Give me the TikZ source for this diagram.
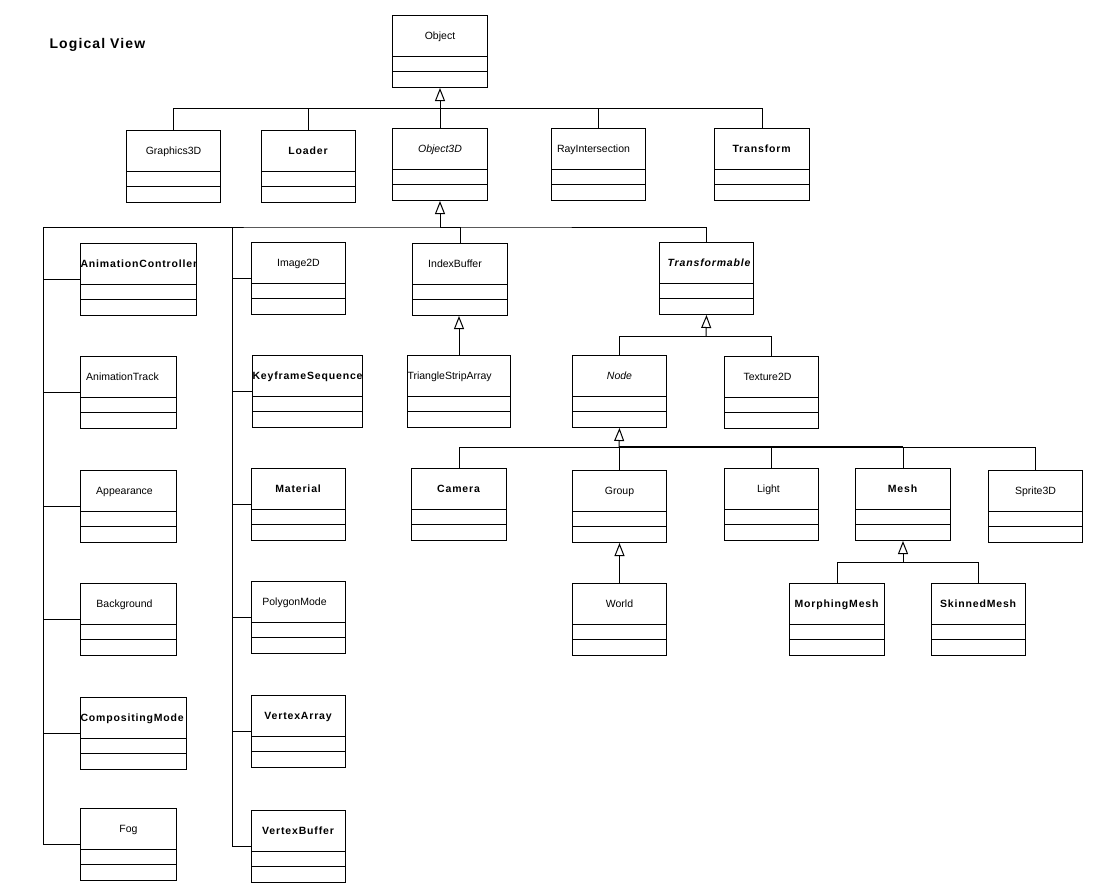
\documentclass[tikz,border=0pt]{standalone}
\usepackage{fontspec}
\setmainfont{Liberation Sans}[BoldFeatures={LetterSpace=8},BoldItalicFeatures={LetterSpace=8}]
\usetikzlibrary{arrows.meta}

\tikzset{
    classbox/.style={draw, rectangle, minimum height=72pt, inner sep=0pt},
    clslabel/.style={inner xsep=1pt, inner ysep=0pt, anchor=base, align=center,
        font=\fontsize{10.5}{12}\selectfont},
    gen/.style={-{Triangle[open,length=13pt,width=10pt]}}
}

% #1 label options, #2 name, #3 x, #4 y (top left), #5 width, #6 class name
\newcommand{\umlclass}[6][]{%
    \node[classbox, minimum width=#5pt, anchor=north west] (#2) at (#3,#4) {};
    \draw ([yshift=-41pt]#2.north west) -- ([yshift=-41pt]#2.north east)
          ([yshift=-56pt]#2.north west) -- ([yshift=-56pt]#2.north east);
    \node[clslabel, text width=#5pt, #1] (#2-name) at ([yshift=-24pt]#2.north) {#6};}

\begin{document}
\begin{tikzpicture}[x=1pt, y=-1pt, line width=1pt]
    \useasboundingbox (0,0) rectangle (1109,884);
    \node[anchor=base west, inner sep=0pt, font=\fontsize{14}{16}\selectfont\bfseries] (title) at (49,48) {Logical View};

    \umlclass{object}{392}{15}{95}{Object}
    \umlclass{graphics}{126}{130}{94}{Graphics3D}
    \umlclass{loader}{261}{130}{94}{\textbf{Loader}}
    \umlclass{object3d}{392}{128}{95}{\textit{Object3D}}
    \umlclass[xshift=-5pt]{rayint}{551}{128}{94}{RayIntersection}
    \umlclass{transform}{714}{128}{95}{\textbf{Transform}}

    \umlclass[align=left]{anictrl}{80}{243}{116}{\textbf{AnimationController}}
    \umlclass[xshift=-6pt]{anitrack}{80}{356}{96}{AnimationTrack}
    \umlclass[xshift=-4pt]{appearance}{80}{470}{96}{Appearance}
    \umlclass[xshift=-4pt]{background}{80}{583}{96}{Background}
    \umlclass[align=left]{compmode}{80}{697}{106}{\textbf{CompositingMode}}
    \umlclass{fog}{80}{808}{96}{Fog}

    \umlclass{image2d}{251}{242}{94}{Image2D}
    \umlclass[align=left]{keyframe}{252}{355}{110}{\textbf{KeyframeSequence}}
    \umlclass{material}{251}{468}{94}{\textbf{Material}}
    \umlclass[xshift=-4pt]{polymode}{251}{581}{94}{PolygonMode}
    \umlclass{vertexarr}{251}{695}{94}{\textbf{VertexArray}}
    \umlclass{vertexbuf}{251}{810}{94}{\textbf{VertexBuffer}}

    \umlclass[xshift=-5pt]{indexbuf}{412}{243}{95}{IndexBuffer}
    \umlclass[align=left]{tsa}{407}{355}{103}{TriangleStripArray}
    \umlclass[xshift=3pt]{transformable}{659}{242}{94}{\textbf{\textit{Transformable}}}
    \umlclass{nodecls}{572}{355}{94}{\textit{Node}}
    \umlclass[xshift=-4pt]{texture2d}{724}{356}{94}{Texture2D}

    \umlclass{camera}{411}{468}{95}{\textbf{Camera}}
    \umlclass{group}{572}{470}{94}{Group}
    \umlclass[xshift=-3pt]{light}{724}{468}{94}{Light}
    \umlclass{mesh}{855}{468}{95}{\textbf{Mesh}}
    \umlclass{sprite}{988}{470}{94}{Sprite3D}
    \umlclass{world}{572}{583}{94}{World}
    \umlclass{morphmesh}{789}{583}{95}{\textbf{MorphingMesh}}
    \umlclass{skinmesh}{931}{583}{94}{\textbf{SkinnedMesh}}

    % generalization buses
    \coordinate (objbus) at (440,108);
    \coordinate (o3dbus) at (440,227);
    \coordinate (o3dbusA) at (43,227);
    \coordinate (o3dbusB) at (232,227);
    \coordinate (tfbus) at (706,336);
    \coordinate (nodebus) at (619,447);
    \coordinate (meshbus) at (903,562);

    \draw[gen] (objbus) -- (object.south);
    \foreach \c in {graphics,loader,object3d,rayint,transform}
        \draw (objbus) -| (\c.north);

    \draw[gen] (o3dbus) -- (object3d.south);
    \draw (o3dbusA) -- (o3dbus) -| (transformable.north);
    \draw (o3dbus) -| (indexbuf.north);
    \foreach \c in {anictrl,anitrack,appearance,background,compmode,fog}
        \draw (\c.west) -| (o3dbusA);
    \foreach \c in {image2d,keyframe,material,polymode,vertexarr,vertexbuf}
        \draw (\c.west) -| (o3dbusB);

    \draw[gen] (tsa.north) -- (tsa.north |- indexbuf.south);

    \draw[gen] (tfbus) -- (transformable.south);
    \foreach \c in {nodecls,texture2d}
        \draw (tfbus) -| (\c.north);

    \draw[gen] (nodebus) -- (nodecls.south);
    \foreach \c in {camera,group,light,mesh,sprite}
        \draw (nodebus) -| (\c.north);
    \draw[line width=2pt] (nodebus) -- (nodebus -| mesh.north);

    \draw[gen] (world.north) -- (group.south);

    \draw[gen] (meshbus) -- (mesh.south);
    \foreach \c in {morphmesh,skinmesh}
        \draw (meshbus) -| (\c.north);
\end{tikzpicture}
\end{document}
